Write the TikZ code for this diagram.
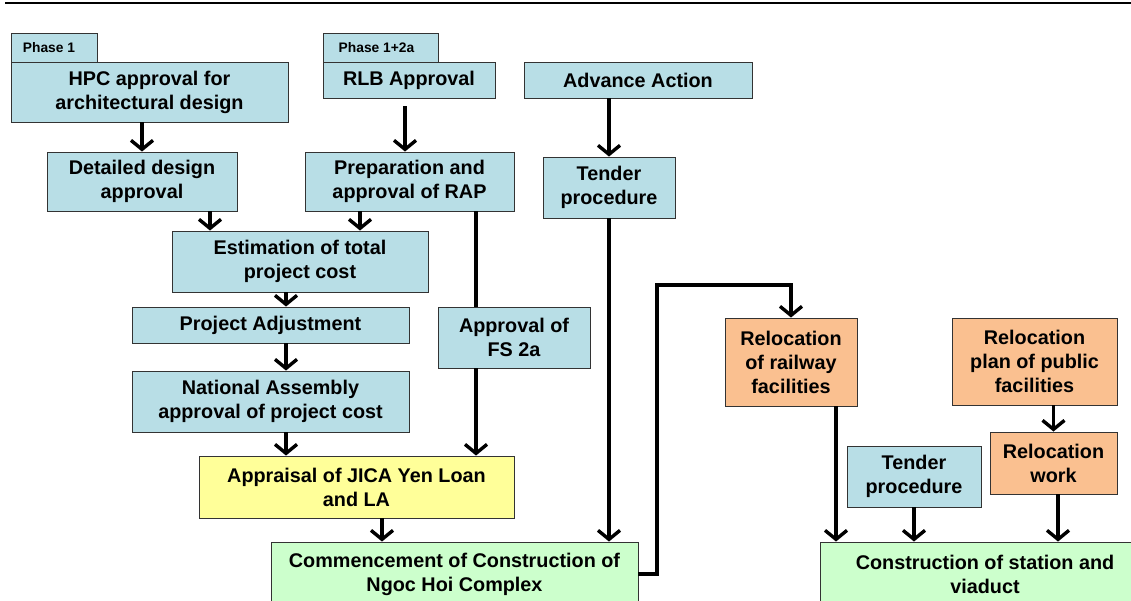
\documentclass[tikz,border=0pt]{standalone}
\usepackage{fontspec}
\setmainfont{Liberation Sans}
\usetikzlibrary{arrows.meta}
\definecolor{boxblue}{HTML}{B8DEE6}
\definecolor{boxorange}{HTML}{FAC090}
\definecolor{boxyellow}{HTML}{FFFF99}
\definecolor{boxgreen}{HTML}{CCFFCC}
\tikzset{
  box/.style={draw=black!80, line width=0.9pt, inner sep=0pt, align=center,
    font=\fontsize{19.8}{24}\selectfont\bfseries},
  blue/.style={box, fill=boxblue},
  orange/.style={box, fill=boxorange},
  yellow/.style={box, fill=boxyellow},
  green/.style={box, fill=boxgreen},
  tab/.style={box, fill=boxblue, font=\fontsize{13.8}{16}\selectfont\bfseries},
  arr/.style={line width=3.4pt, -{Straight Barb[length=9pt,width=22pt]}},
  link/.style={line width=3.4pt},
}
\begin{document}
\begin{tikzpicture}[x=1pt,y=-1pt]
\useasboundingbox (0,0) rectangle (1131,601);
\clip (0,0) rectangle (1131,601);
\fill[white] (0,0) rectangle (1131,601);
% header rule
\draw[line width=2.5pt] (5,3) -- (1131,3);

% left column
\node[tab, minimum width=86, minimum height=29] (tab1) at (54,47.5) {\hspace*{-10pt}Phase 1};
\node[blue, minimum width=277, minimum height=60] (hpc) at (149.5,92) {HPC approval for\\architectural design};
\node[blue, minimum width=190, minimum height=59] (ddes) at (142,181.5) {Detailed design\\approval};
\node[blue, minimum width=256, minimum height=61] (est) at (300,261.5) {Estimation of total\\project cost};
\node[blue, minimum width=277, minimum height=36] (padj) at (270.5,325) {Project Adjustment};
\node[blue, minimum width=277, minimum height=61] (nat) at (270.5,401.5) {National Assembly\\approval of project cost};
\node[yellow, minimum width=315, minimum height=62] (jica) at (356.5,487) {Appraisal of JICA Yen Loan\\and LA};
\node[green, minimum width=367, minimum height=64] (comm) at (454.5,574) {Commencement of Construction of\\Ngoc Hoi Complex};

% middle column
\node[tab, minimum width=115, minimum height=29] (tab2) at (380.5,47.5) {\hspace*{-8pt}Phase 1+2a};
\node[blue, minimum width=172, minimum height=36] (rlb) at (409,80) {RLB Approval};
\node[blue, minimum width=209, minimum height=59] (rap) at (409.5,181.5) {Preparation and\\approval of RAP};
\node[blue, minimum width=152, minimum height=61] (fs) at (514,337.5) {Approval of\\FS 2a};
\node[blue, minimum width=228, minimum height=36] (adv) at (638,80) {Advance Action};
\node[blue, minimum width=132, minimum height=61] (tend1) at (609,187.5) {Tender\\procedure};

% right column
\node[orange, minimum width=132, minimum height=88] (rail) at (791,362) {Relocation\\of railway\\facilities};
\node[orange, minimum width=165, minimum height=87] (plan) at (1034.5,361.5) {Relocation\\plan of public\\facilities};
\node[orange, minimum width=127, minimum height=62] (rwork) at (1053.5,463) {Relocation\\work};
\node[blue, minimum width=134, minimum height=61] (tend2) at (914,476.5) {Tender\\procedure};
\node[green, minimum width=330, minimum height=64] (cons) at (985,574) {Construction of station and\\viaduct};

% connectors
\draw[arr] (hpc.south -| ddes.north) -- (ddes.north);
\draw[arr, shorten <=8pt] ([xshift=-4pt]rlb.south) coordinate (t) -- (t |- rap.north);
\draw[arr] (adv.south -| tend1.north) -- (tend1.north);
\draw[arr] ([xshift=68pt]ddes.south) coordinate (t) -- (t |- est.north);
\draw[arr] ([xshift=-49.5pt]rap.south) coordinate (t) -- (t |- est.north);
\draw[link] ([xshift=66.5pt]rap.south) coordinate (t) -- (t |- fs.north);
\draw[arr] ([xshift=-38pt]fs.south) coordinate (t) -- (t |- jica.north);
\draw[arr] ([xshift=-14pt]est.south) coordinate (t) -- (t |- padj.north);
\draw[arr] ([xshift=15.5pt]padj.south) coordinate (t) -- (t |- nat.north);
\draw[arr] ([xshift=15.5pt]nat.south) coordinate (t) -- (t |- jica.north);
\draw[arr] ([xshift=25.5pt]jica.south) coordinate (t) -- (t |- comm.north);
\draw[arr] (tend1.south) -- (tend1.south |- comm.north);
\coordinate (bend) at (657,285);
\draw[arr] (comm.east) -| (bend) -| (rail.north);
\draw[arr] ([xshift=45pt]rail.south) coordinate (t) -- (t |- cons.north);
\draw[arr] (tend2.south) -- (tend2.south |- cons.north);
\draw[arr] (plan.south -| rwork.north) -- (rwork.north);
\draw[arr] ([xshift=4.5pt]rwork.south) coordinate (t) -- (t |- cons.north);
\end{tikzpicture}
\end{document}
